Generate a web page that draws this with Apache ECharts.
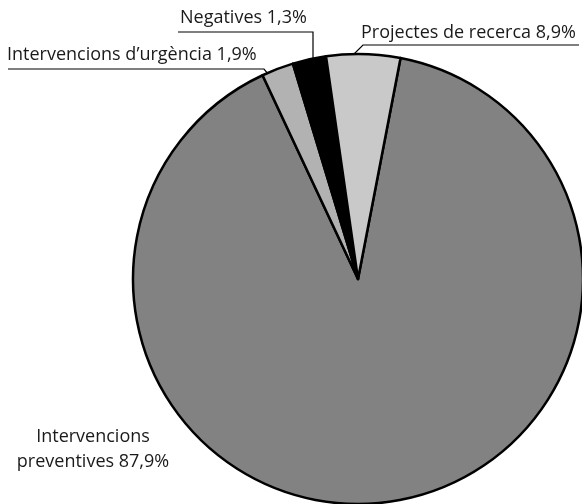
<!DOCTYPE html>
<html><head><meta charset="utf-8">
<script src="https://cdn.jsdelivr.net/npm/echarts@6/dist/echarts.min.js"></script>
<style>html,body{margin:0;padding:0;background:#fff}#c{width:582px;height:504px}</style>
</head><body><div id="c"></div>
<script>
// Slice order clockwise starting at right edge of the "Projectes" slice
const categories = ['Intervencions preventives', 'Intervencions d\u2019urgència', 'Negatives', 'Projectes de recerca'];
// Slice sizes as drawn in the picture (angular share)
const sliceValues = [90.0, 2.3, 2.4, 5.3];
// Percentages printed in the labels
const labelTexts = ['Intervencions\npreventives 87,9%', 'Intervencions d\u2019urgència 1,9%', 'Negatives 1,3%', 'Projectes de recerca 8,9%'];
const colors = ['#828282', '#b2b2b2', '#000000', '#c9c9c9'];

const labelPos = [
  {x: 93, y: 449, align: 'center', pts: null},
  {x: 7, y: 55, align: 'left', pts: [[269, 75], [264, 69], [8, 69]]},
  {x: 180, y: 18, align: 'left', pts: [[313, 58], [313, 32], [178, 32]]},
  {x: 361, y: 33, align: 'left', pts: [[354, 54], [363, 45], [579, 45]]}
];

const chart = echarts.init(document.getElementById('c'), null, {renderer: 'canvas'});
chart.setOption({
  animation: false,
  series: [{
    type: 'pie',
    center: [358, 279],
    radius: 225,
    startAngle: 79.1,
    clockwise: true,
    avoidLabelOverlap: false,
    silent: true,
    itemStyle: {borderColor: '#000', borderWidth: 2.5},
    label: {
      show: true,
      position: 'outside',
      fontFamily: 'Open Sans',
      fontSize: 18,
      color: '#1a1a1a',
      lineHeight: 25,
      formatter: p => labelTexts[p.dataIndex]
    },
    labelLine: {show: true, lineStyle: {color: '#000', width: 1.2}},
    labelLayout: function (params) {
      const lp = labelPos[params.dataIndex];
      const r = {x: lp.x, y: lp.y, align: lp.align, verticalAlign: 'middle'};
      if (lp.pts) r.labelLinePoints = lp.pts;
      return r;
    },
    data: categories.map((c, i) => ({
      name: c,
      value: sliceValues[i],
      itemStyle: {color: colors[i]},
      labelLine: {show: i !== 0},
      label: i === 0 ? {align: 'center'} : {}
    }))
  }]
});
</script></body></html>
